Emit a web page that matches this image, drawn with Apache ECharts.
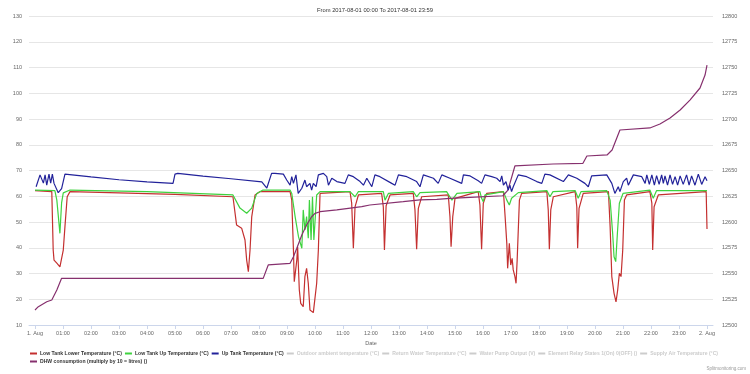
<!DOCTYPE html>
<html><head><meta charset="utf-8">
<script src="https://cdn.jsdelivr.net/npm/echarts@6/dist/echarts.min.js"></script>
<style>html,body{margin:0;padding:0;background:#fff}#c{width:750px;height:374px}</style>
</head><body><div id="c"></div>
<script>
// x values are hours since 2017-08-01 00:00
const hourTicks = [0,1,2,3,4,5,6,7,8,9,10,11,12,13,14,15,16,17,18,19,20,21,22,23,24];
const legendNames = [
  'Low Tank Lower Temperature (°C)','Low Tank Up Temperature (°C)','Up Tank Temperature (°C)',
  'Outdoor ambient temperature (°C)','Return Water Temperature (°C)','Water Pump Output (V)',
  'Element Relay States 1(On) 0(OFF) ()','Supply Air Temperature (°C)','DHW consumption (multiply by 10 = litres) ()'
];
const lowTankLower = [[0,62.2],[0.6,61.8],[0.65,39.1],[0.68,35.2],[0.78,34.0],[0.89,32.6],[0.95,32.0],[1.01,39.1],[1.07,48.2],[1.15,59.8],[1.25,61.8],[3,61.3],[5,60.7],[7.07,59.8],
 [7.2,48.8],[7.38,47.6],[7.5,43.0],[7.56,35.2],[7.62,30.7],[7.68,39.1],[7.74,52.0],[7.86,60.5],[8.04,61.8],[9.11,61.8],[9.17,58.5],[9.23,39.1],[9.26,26.8],[9.35,35.2],[9.38,40.4],[9.44,23.6],[9.49,18.4],[9.58,17.1],[9.64,28.8],[9.70,32.0],[9.76,26.2],[9.82,15.8],[9.94,14.8],[10.0,15.2],[10.06,26.2],[10.12,39.1],[10.18,61.1],
 [11.25,61.8],[11.31,57.3],[11.37,39.8],[11.43,55.9],[11.55,60.5],[12.38,61.1],[12.44,55.9],[12.48,39.1],[12.54,56.3],[12.68,60.5],[13.51,61.1],[13.57,54.7],[13.63,39.4],[13.69,55.3],[13.81,59.8],[14.76,60.5],[14.82,52.1],[14.86,40.4],[14.92,52.1],[15.0,59.2],
 [15.83,61.8],[15.89,56.6],[15.95,39.4],[16.01,57.3],[16.13,61.1],[16.73,61.8],[16.79,52.1],[16.85,41.7],[16.88,32.0],[16.94,41.7],[16.99,33.3],[17.04,35.9],[17.08,31.4],[17.14,28.8],[17.18,26.2],[17.22,35.2],[17.30,58.5],[17.38,61.1],
 [18.28,61.8],[18.33,54.7],[18.37,39.4],[18.42,54.7],[18.51,59.8],[19.29,61.8],[19.35,55.9],[19.38,39.8],[19.43,55.3],[19.58,61.1],[20.48,61.8],[20.54,48.2],[20.60,28.8],[20.68,22.3],[20.75,19.0],[20.81,23.6],[20.87,30.1],[20.93,28.8],[20.99,39.1],[21.05,58.5],[21.13,60.5],
 [21.96,61.8],[22.03,57.3],[22.06,39.1],[22.11,55.9],[22.26,60.5],[23.97,61.8],[24.0,47.3]];
const lowTankUp = [[0,62.4],[0.71,62.2],[0.78,58.5],[0.83,57.9],[0.89,45.6],[0.95,57.4],[1.01,61.3],[1.25,62.4],[4,61.8],[7.07,60.5],[7.32,55.4],[7.56,53.4],[7.74,55.4],[7.92,61.1],[8.14,62.4],
 [9.11,62.4],[9.17,61.1],[9.29,52.1],[9.41,44.3],[9.53,39.8],[9.58,54.7],[9.64,46.9],[9.70,52.1],[9.76,43.7],[9.80,58.5],[9.86,43.0],[9.91,59.8],[9.96,43.0],[10.06,60.5],[10.18,61.8],
 [11.25,61.8],[11.43,59.8],[11.55,61.8],[12.44,61.8],[12.5,58.5],[12.62,61.1],[13.51,61.8],[13.63,59.8],[13.75,61.4],[14.70,61.8],[14.89,58.5],[15.07,61.1],[15.89,61.8],[15.95,59.2],[16.01,57.9],[16.07,60.5],
 [16.73,61.8],[16.85,58.5],[16.94,56.6],[17.02,59.2],[17.26,61.4],[18.28,62.2],[18.39,59.8],[18.5,61.8],[19.29,62.2],[19.40,59.2],[19.5,61.8],[20.42,62.2],[20.54,58.5],[20.63,45.6],[20.68,36.5],[20.74,34.6],[20.80,45.6],[20.87,57.3],[21.0,61.1],
 [21.96,62.4],[22.08,59.2],[22.2,62.2],[24.0,62.2]];
const upTank = [[0.04,63.7],[0.18,68.3],[0.30,65.1],[0.36,68.3],[0.42,64.3],[0.50,68.6],[0.56,65.1],[0.62,68.6],[0.68,65.0],[0.83,61.4],[0.95,63.0],[1.07,68.6],[1.1,69.0],[2,67.5],[3,66.4],[4,65.6],[4.93,65.0],[5.0,68.6],[5.1,68.9],[6,67.8],[7,66.8],[8.1,65.6],[8.28,63.2],[8.45,68.9],
 [8.57,68.9],[8.87,68.6],[8.99,66.3],[9.11,64.3],[9.17,67.6],[9.23,65.0],[9.32,68.3],[9.40,61.1],[9.53,63.1],[9.64,66.3],[9.70,63.7],[9.82,65.0],[9.88,62.4],[9.94,65.0],[10.04,63.7],[10.12,68.3],[10.30,68.9],[10.42,67.6],[10.48,64.3],[10.60,67.0],[10.78,65.7],[11.07,65.0],[11.19,68.3],[11.37,67.6],[11.61,65.7],[11.73,64.3],[11.85,67.0],[12.03,63.7],[12.14,68.3],[12.32,67.6],[12.74,65.0],[12.86,64.3],[12.98,68.3],[13.28,67.6],[13.63,65.7],[13.75,63.7],[13.87,68.3],[14.23,67.0],[14.40,65.0],[14.53,68.3],[14.82,67.0],[15.24,65.0],[15.30,68.3],[15.54,67.9],[15.83,66.0],[15.95,65.0],[16.07,68.3],[16.31,67.6],[16.49,67.0],[16.61,65.7],[16.67,67.9],[16.73,64.3],[16.82,65.7],[16.90,62.4],[16.96,64.3],[17.02,61.8],[17.08,63.7],[17.26,68.3],[17.56,67.6],[17.92,65.7],[18.10,65.0],[18.21,68.6],[18.39,68.3],[18.87,65.7],[19.05,68.3],[19.35,67.0],[19.64,65.0],[19.76,63.7],[19.88,67.9],[20.42,68.3],[20.60,65.0],[20.71,61.1],[20.83,63.7],[20.89,61.8],[21.01,65.7],[21.13,67.0],[21.19,64.3],[21.37,68.3],[21.67,67.6],[21.79,65.0],
 [21.85,68.3],[21.94,64.6],[22.03,68.3],[22.12,64.3],[22.2,68.0],[22.29,64.6],[22.38,68.3],[22.44,65.0],[22.5,67.9],[22.59,64.3],[22.68,68.3],[22.77,64.6],[22.86,67.6],[22.95,64.3],[23.04,67.9],[23.15,64.6],[23.27,68.3],[23.36,64.3],[23.45,67.9],[23.57,64.3],[23.69,68.6],[23.81,64.6],[23.93,67.6],[24.0,66.0]];
const dhwConsumption = [[0,12514.6],[0.12,12517.8],[0.42,12522.6],[0.6,12524.3],[0.78,12534.0],[0.95,12545.3],[8.15,12545.3],[8.33,12558.3],[9.11,12559.9],[9.23,12566.3],[9.35,12574.5],[9.53,12587.4],[9.70,12597.1],[9.88,12605.1],[10.0,12608.4],[10.18,12610.0],[10.78,12611.7],[11.19,12613.3],[11.67,12614.9],[11.96,12616.5],[13.15,12619.7],[13.75,12621.4],[14.35,12622.0],[14.82,12623.0],[15.54,12624.0],[16.71,12625.5],[16.89,12631.0],[17.14,12654.4],[18.5,12656.3],[19.57,12657.0],[19.71,12664.1],[20.43,12665.1],[20.61,12669.9],[20.89,12689.3],[21.96,12691.3],[22.32,12695.1],[22.68,12701.0],[23.04,12708.7],[23.39,12718.4],[23.75,12730.1],[23.93,12742.7],[24.0,12752.4]];

const colors = ['#c43030','#3fd23f','#22229a','#aaa','#aaa','#aaa','#aaa','#aaa','#86306e'];
const seriesData = [lowTankLower, lowTankUp, upTank, [], [], [], [], [], dhwConsumption];
const selected = {};
legendNames.forEach((n,i)=>{ selected[n] = !(i>=3 && i<=7); });

const FONT = 'Liberation Sans';
const chart = echarts.init(document.getElementById('c'), null, {renderer:'canvas'});
const lblFont = {fontFamily:FONT, fontSize:5.5, color:'#666'};
chart.setOption({
  animation:false,
  color: colors,
  title:{text:'From 2017-08-01 00:00 To 2017-08-01 23:59', left:'center', top:2,
    textStyle:{fontFamily:FONT, fontSize:5.8, fontWeight:'normal', color:'#333'}},
  graphic:[{type:'text', right:4, bottom:3, style:{text:'Splitmonitoring.com', fill:'#999', font:'4.5px Liberation Sans'}}],
  legend:{data:legendNames, selected:selected, left:30, top:351, width:716, itemGap:3,
    itemWidth:7, itemHeight:2, icon:'rect', inactiveColor:'#cccccc',
    textStyle:{fontFamily:FONT, fontSize:5.1, fontWeight:'bold', color:'#333', padding:[0,0,0,-2]},
    padding:0},
  grid:{left:29, right:37, top:16, bottom:49, outerBoundsMode:'none', containLabel:false},
  xAxis:{type:'value', min:-0.214, max:24.214, name:'Date', nameLocation:'middle', nameGap:14,
    nameTextStyle:lblFont,
    axisLine:{lineStyle:{color:'#ccd6eb'}},
    axisTick:{customValues:hourTicks, length:4, lineStyle:{color:'#ccd6eb'}},
    axisLabel:Object.assign({customValues:hourTicks, margin:5, formatter:v=>{
      if(v===0) return '1. Aug'; if(v===24) return '2. Aug';
      return (v<10?'0':'')+v+':00';}}, lblFont),
    splitLine:{show:false}},
  yAxis:[{type:'value', min:10, max:130, interval:10, name:'°F', nameLocation:'middle', nameGap:20, nameRotate:90,
     nameTextStyle:lblFont, axisLabel:Object.assign({margin:7}, lblFont),
     splitLine:{lineStyle:{color:'#e6e6e6'}}, axisLine:{show:false}, axisTick:{show:false}},
    {type:'value', min:12500, max:12800, interval:25, name:'DHW water use', nameLocation:'middle', nameGap:26, nameRotate:-90,
     nameTextStyle:lblFont, axisLabel:Object.assign({margin:9, formatter:v=>String(v)}, lblFont),
     splitLine:{show:false}, axisLine:{show:false}, axisTick:{show:false}}],
  series: legendNames.map((n,i)=>({name:n, type:'line', yAxisIndex: i===8?1:0, data:seriesData[i],
    showSymbol:false, symbol:'none', lineStyle:{width:1.2, color:colors[i]}, itemStyle:{color:colors[i]},
    z: i===2?3:2}))
});
</script></body></html>
